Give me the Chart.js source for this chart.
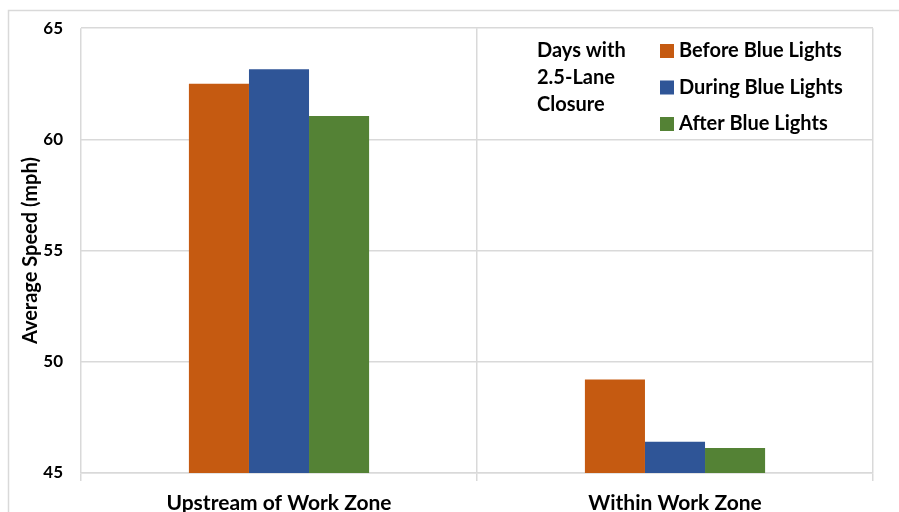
<!DOCTYPE html>
<html>
<head>
<meta charset="utf-8">
<script src="https://cdn.jsdelivr.net/npm/chart.js@4.4.1/dist/chart.umd.min.js"></script>
<style>
  html, body { margin: 0; padding: 0; background: #fff; }
  #wrap { position: relative; width: 899px; height: 512px; }
  canvas { display: block; }
</style>
</head>
<body>
<div id="wrap"><canvas id="c" width="899" height="512"></canvas></div>
<script>
const categories = ["Upstream of Work Zone", "Within Work Zone"];
const seriesNames = ["Before Blue Lights", "During Blue Lights", "After Blue Lights"];
const beforeValues = [62.5, 49.2];
const duringValues = [63.15, 46.4];
const afterValues = [61.05, 46.12];
const yTicks = [45, 50, 55, 60, 65];
const legendTitleLines = ["Days with", "2.5-Lane", "Closure"];
const yAxisTitle = "Average Speed (mph)";

const colors = ["#C55A11", "#2F5597", "#548235"];
const FONT = "Lato, 'Liberation Sans', sans-serif";
const gridColor = "#d9d9d9";

const outerBorder = {
  id: "outerBorder",
  beforeDraw(chart) {
    const ctx = chart.ctx;
    ctx.save();
    ctx.fillStyle = "#fff";
    ctx.fillRect(0, 0, chart.width, chart.height);
    ctx.strokeStyle = gridColor;
    ctx.lineWidth = 1.5;
    ctx.strokeRect(8.5, 10.5, 1000, 1000);
    ctx.restore();
  }
};

const customLegend = {
  id: "customLegend",
  afterDraw(chart) {
    const ctx = chart.ctx;
    ctx.save();
    ctx.font = "bold 20px " + FONT;
    ctx.fillStyle = "#000";
    ctx.textBaseline = "middle";
    ctx.textAlign = "left";
    legendTitleLines.forEach((t, i) => ctx.fillText(t, 537, 51 + i * 27));
    chart.data.datasets.forEach((ds, i) => {
      const y = 51 + i * 36.5;
      ctx.fillStyle = ds.backgroundColor;
      ctx.fillRect(660, y - 7, 14, 14);
      ctx.fillStyle = "#000";
      ctx.fillText(ds.label, 679, y);
    });
    ctx.restore();
  }
};

new Chart(document.getElementById("c"), {
  type: "bar",
  data: {
    labels: categories,
    datasets: [
      { label: seriesNames[0], data: beforeValues, backgroundColor: colors[0] },
      { label: seriesNames[1], data: duringValues, backgroundColor: colors[1] },
      { label: seriesNames[2], data: afterValues, backgroundColor: colors[2] }
    ]
  },
  options: {
    responsive: false,
    animation: false,
    devicePixelRatio: 1,
    layout: { padding: { left: 0, right: 26, top: 28, bottom: 0 } },
    datasets: { bar: { categoryPercentage: 0.455, barPercentage: 1.0 } },
    plugins: {
      legend: { display: false },
      tooltip: { enabled: false }
    },
    scales: {
      x: {
        grid: { color: gridColor, lineWidth: 1.5, offset: true, tickLength: 8 },
        border: { color: gridColor, width: 1.5 },
        ticks: {
          color: "#000",
          font: { family: FONT, size: 21, weight: "bold" },
          padding: 10,
          maxRotation: 0
        },
        afterFit(scale) { scale.height = 39; }
      },
      y: {
        min: 45,
        max: 65,
        afterBuildTicks(scale) { scale.ticks = yTicks.map(v => ({ value: v })); },
        grid: { color: gridColor, lineWidth: 1.5, drawTicks: false },
        border: { display: false },
        ticks: {
          color: "#000",
          font: { family: FONT, size: 17, weight: "bold" },
          padding: 18
        },
        title: {
          display: true,
          text: yAxisTitle,
          color: "#000",
          font: { family: FONT, size: 20, weight: "bold" },
          padding: { top: 19, bottom: 0 }
        },
        afterFit(scale) { scale.width = 81; }
      }
    }
  },
  plugins: [outerBorder, customLegend]
});
</script>
</body>
</html>
